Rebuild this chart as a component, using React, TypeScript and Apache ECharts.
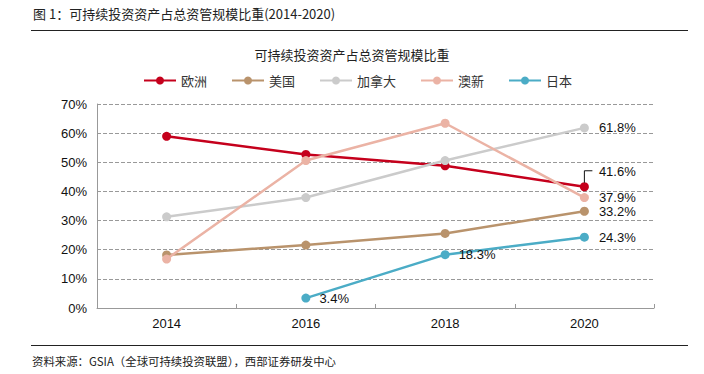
import React, { useEffect, useRef } from "react";
import * as echarts from "echarts";

const years = ["2014", "2016", "2018", "2020"];
const europe = [58.9, 52.7, 48.8, 41.6];
const usa = [18.2, 21.6, 25.6, 33.2];
const canada = [31.3, 37.9, 50.6, 61.8];
const anz = [16.8, 50.6, 63.4, 37.9];
const japan: (number | null)[] = [null, 3.4, 18.3, 24.3];

const seriesNames = ["欧洲", "美国", "加拿大", "澳新", "日本"];
const colors = ["#C5001C", "#B9936C", "#CBCBCB", "#EBB3A5", "#4BACC6"];
const labelIdx = [[3], [3], [3], [3], [1, 2, 3]];

const headerText = "图 1：可持续投资资产占总资管规模比重(2014-2020)";
const chartTitle = "可持续投资资产占总资管规模比重";
const sourceText = "资料来源：GSIA（全球可持续投资联盟），西部证券研发中心";

const CJK = '"Noto Sans CJK SC", sans-serif';
const LAT = '"Liberation Sans", Arial, sans-serif';

export default function App() {
  const ref = useRef<HTMLDivElement>(null);
  useEffect(() => {
    if (!ref.current) return;
    const chart = echarts.init(ref.current, undefined, { renderer: "svg" });
    const allData = [europe, usa, canada, anz, japan];
    const series = allData.map((arr, si) => ({
      name: seriesNames[si],
      type: "line",
      data: arr.map((v, i) =>
        labelIdx[si].includes(i)
          ? {
              value: v,
              label: {
                show: true,
                position: "right",
                distance: si === 4 && i < 3 ? 9 : 10,
                formatter: (p: any) => `${Number(p.value).toFixed(1)}%`,
                fontSize: 13,
                fontFamily: LAT,
                color: "#111",
              },
            }
          : v
      ),
      symbol: "circle",
      symbolSize: 9,
      lineStyle: { width: 2.5, color: colors[si] },
      itemStyle: { color: colors[si] },
      connectNulls: false,
      z: 2 + si,
      ...(si === 0 ? { labelLayout: { dy: -15 } } : {}),
    }));
    const staticGraphics: any[] = [
      {
        type: "text",
        left: 33,
        top: 7,
        style: { text: headerText, fontSize: 13, fill: "#222", fontFamily: CJK },
      },
      {
        type: "line",
        shape: { x1: 31, y1: 30.5, x2: 688, y2: 30.5 },
        style: { stroke: "#222", lineWidth: 1.2 },
      },
      {
        type: "line",
        shape: { x1: 31, y1: 345.5, x2: 688, y2: 345.5 },
        style: { stroke: "#222", lineWidth: 1.2 },
      },
      {
        type: "text",
        left: 32,
        top: 355,
        style: { text: sourceText, fontSize: 11.4, fill: "#222", fontFamily: CJK },
      },
    ];
    chart.setOption({
      animation: false,
      color: colors,
      title: {
        text: chartTitle,
        left: "center",
        top: 43,
        textStyle: { fontSize: 13, fontWeight: "normal", color: "#222", fontFamily: CJK },
      },
      legend: {
        top: 69,
        left: 138,
        itemWidth: 32,
        itemHeight: 10,
        itemGap: 24,
        textStyle: { fontSize: 13, color: "#333", fontFamily: CJK },
        data: seriesNames,
      },
      grid: { left: 97, right: 50, top: 104, bottom: 66, containLabel: false },
      xAxis: {
        type: "category",
        data: years,
        boundaryGap: true,
        axisLine: { lineStyle: { color: "#999" } },
        axisTick: { show: true, inside: true, length: 4, lineStyle: { color: "#999" } },
        axisLabel: { fontSize: 13, color: "#111", fontFamily: LAT, margin: 9 },
      },
      yAxis: {
        type: "value",
        min: 0,
        max: 70,
        interval: 10,
        axisLine: { show: true, lineStyle: { color: "#999" } },
        axisTick: { show: false },
        axisLabel: { fontSize: 13, color: "#111", fontFamily: LAT, formatter: "{value}%", margin: 10 },
        splitLine: { lineStyle: { type: "dashed", color: "#999", width: 1 } },
      },
      graphic: staticGraphics,
      series,
    });
    const last = europe.length - 1;
    const p = chart.convertToPixel({ seriesIndex: 0 }, [last, europe[last]]) as number[];
    if (p) {
      chart.setOption({
        graphic: [
          ...staticGraphics,
          {
            type: "polyline",
            shape: {
              points: [
                [p[0], p[1] - 4],
                [p[0], p[1] - 16],
                [p[0] + 8, p[1] - 16],
              ],
            },
            style: { stroke: "#111", lineWidth: 1, fill: null },
            z: 10,
          },
        ],
      });
    }
    return () => chart.dispose();
  }, []);
  return <div ref={ref} style={{ width: 704, height: 374, position: "absolute", left: 0, top: 0 }} />;
}
